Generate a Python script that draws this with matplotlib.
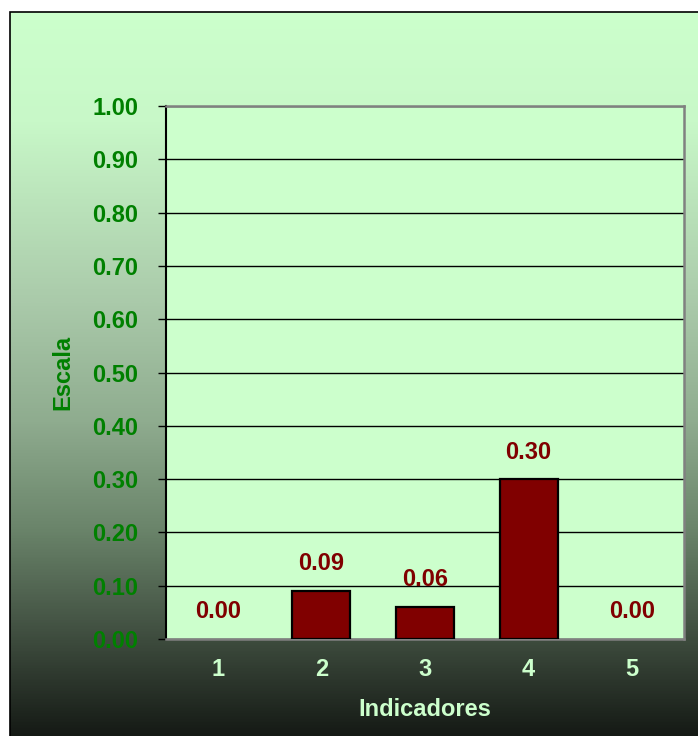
import numpy as np
import matplotlib
matplotlib.use("Agg")
import matplotlib.pyplot as plt
import matplotlib.patches as patches
from matplotlib.colors import LinearSegmentedColormap

# Indicator scores
categories = ["1", "2", "3", "4", "5"]
values = [0.00, 0.09, 0.06, 0.30, 0.00]
y_ticks = [0.0, 0.1, 0.2, 0.3, 0.4, 0.5, 0.6, 0.7, 0.8, 0.9, 1.0]

W, H = 698, 736
FONT = "Liberation Sans"
FS = 17

fig = plt.figure(figsize=(W / 100, H / 100), dpi=100)
fig.patch.set_facecolor("white")

# Chart pane with a vertical green -> near-black gradient
pane_l, pane_t = 10 / W, 12 / H
bg = fig.add_axes([pane_l, 0, 1 - pane_l, 1 - pane_t], zorder=0)
stops = [
    (0.00, "#ccffcc"),
    (0.15, "#c8f8c8"),
    (0.40, "#aacaaa"),
    (0.565, "#8fac8f"),
    (0.715, "#6a846a"),
    (0.84, "#465646"),
    (0.925, "#2c362c"),
    (1.00, "#151a15"),
]
cmap = LinearSegmentedColormap.from_list("pane", stops)
grad = np.linspace(0, 1, 512).reshape(-1, 1)
bg.imshow(grad, aspect="auto", cmap=cmap, extent=[0, 1, 0, 1], origin="upper")
bg.set_xlim(0, 1)
bg.set_ylim(0, 1)
bg.axis("off")
fig.add_artist(patches.Rectangle((pane_l, -0.01), 1.1, 1 - pane_t + 0.01,
                                 transform=fig.transFigure, fill=False,
                                 edgecolor="black", linewidth=1.2, zorder=1))

# Plot area
ax = fig.add_axes([166 / W, 1 - 639 / H, (684 - 166) / W, (639 - 106) / H], zorder=2)
ax.set_facecolor("#ccffcc")

x = np.arange(len(categories))
edges = ["black" if v > 0 else "none" for v in values]
ax.bar(x, values, width=0.56, color="#800000", edgecolor=edges, linewidth=1.6, zorder=3)

for xi, v in zip(x, values):
    ax.annotate(f"{v:.2f}", (xi, v), xytext=(0, 19.5), textcoords="offset points",
                ha="center", va="center", fontsize=FS, fontweight="bold",
                family=FONT, color="#800000", zorder=4)

ax.set_xlim(-0.5, len(categories) - 0.5)
ax.set_ylim(0, 1)
ax.set_yticks(y_ticks)
ax.set_yticklabels([f"{t:.2f}" for t in y_ticks])
ax.set_xticks(x)
ax.set_xticklabels(categories)

ax.yaxis.grid(True, color="black", linewidth=1.0, zorder=1)
ax.set_axisbelow(True)

for lbl in ax.get_yticklabels():
    lbl.set_fontsize(FS)
    lbl.set_fontweight("bold")
    lbl.set_family(FONT)
    lbl.set_color("#008000")
for lbl in ax.get_xticklabels():
    lbl.set_fontsize(FS)
    lbl.set_fontweight("bold")
    lbl.set_family(FONT)
    lbl.set_color("#ccffcc")

ax.tick_params(axis="y", direction="out", length=6, width=1.0, color="black", pad=14)
ax.tick_params(axis="x", length=0, pad=14)

for side in ["top", "right", "bottom"]:
    ax.spines[side].set_color("#808080")
    ax.spines[side].set_linewidth(1.8)
ax.spines["left"].set_color("black")
ax.spines["left"].set_linewidth(1.5)

ax.set_ylabel("Escala", fontsize=FS, fontweight="bold", family=FONT, color="#008000", labelpad=13)
ax.set_xlabel("Indicadores", fontsize=FS, fontweight="bold", family=FONT, color="#ccffcc", labelpad=12)

fig.savefig("out.png", dpi=100)
